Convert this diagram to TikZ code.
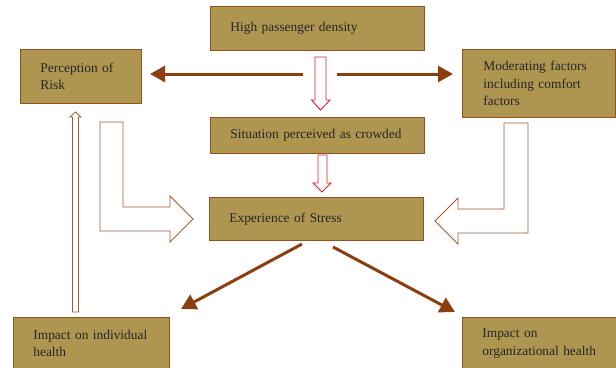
\documentclass[tikz,border=0pt]{standalone}
\usepackage{fontspec}
\setmainfont{Liberation Serif}
\usetikzlibrary{arrows.meta}
\definecolor{boxfill}{RGB}{174,150,80}
\definecolor{boxline}{RGB}{150,80,30}
\definecolor{arrbrown}{RGB}{139,62,15}
\definecolor{hollowred}{RGB}{215,35,35}
\definecolor{hollowbrown}{RGB}{160,90,50}
\tikzset{
  box/.style={draw=boxline, line width=0.8pt, fill=boxfill, rectangle, align=left,
    inner xsep=20pt, inner ysep=0pt, anchor=north west,
    font=\fontsize{13.4}{17.5}\selectfont, text=black!85},
  thickarrow/.style={draw=arrbrown, line width=3pt, -{Triangle[length=15pt,width=16pt]}},
  redhollow/.style={draw=hollowred, line width=0.9pt, fill=white},
  brownhollow/.style={draw=hollowbrown, line width=0.9pt, fill=white},
}
\begin{document}
\begin{tikzpicture}[x=1pt,y=-1pt]
\useasboundingbox (0,0) rectangle (616,367);
\clip (0,0) rectangle (616,367);
% boxes
\node[box, text width=174pt, minimum height=44pt] (hpd) at (210,6) {High passenger density};
\node[box, text width=81pt, minimum height=54pt] (risk) at (20,49) {Perception of\\Risk};
\node[box, inner xsep=21pt, text width=111pt, minimum height=68pt] (mod) at (462,49) {Moderating factors\\including comfort\\factors};
\node[box, text width=174pt, minimum height=36pt] (crowd) at (210,117) {Situation perceived as crowded};
\node[box, text width=174pt, minimum height=43pt] (stress) at (209,197) {Experience of Stress};
\node[box, text width=116pt, minimum height=52pt] (indiv) at (13,317) {Impact on individual\\health};
\node[box, text width=122pt, minimum height=52pt] (org) at (462,317) {Impact on\\organizational health};
% connector end points
\coordinate (lstart) at (303,74);
\coordinate (lend) at (150,74);
\coordinate (rstart) at (337,74);
\coordinate (rend) at (453,74);
\coordinate (dlstart) at (302,244);
\coordinate (dlend) at (181,309);
\coordinate (drstart) at (333,247);
\coordinate (drend) at (455,312);
% solid brown arrows
\draw[thickarrow] (lstart) -- (lend);
\draw[thickarrow] (rstart) -- (rend);
\draw[thickarrow] (dlstart) -- (dlend);
\draw[thickarrow] (drstart) -- (drend);
% red hollow arrows
\draw[redhollow] (315,57) -- (326,57) -- (326,100) -- (330,100) -- (320.5,110) -- (311.5,100) -- (315,100) -- cycle;
\draw[redhollow] (318,155) -- (327,155) -- (327,183) -- (331,183) -- (322,192) -- (313,183) -- (318,183) -- cycle;
% brown hollow L arrows
\draw[brownhollow] (100,122) -- (123,122) -- (123,207) -- (170,207) -- (170,196) -- (193,219) -- (170,242) -- (170,231) -- (100,231) -- cycle;
\draw[brownhollow] (504,123) -- (528,123) -- (528,233) -- (458,233) -- (458,244) -- (435,221) -- (458,198) -- (458,209) -- (504,209) -- cycle;
% thin up arrow
\draw[brownhollow, line width=0.8pt] (72.5,312) -- (78.5,312) -- (78.5,117) -- (81,117) -- (75.5,112) -- (70,117) -- (72.5,117) -- cycle;
\end{tikzpicture}
\end{document}
